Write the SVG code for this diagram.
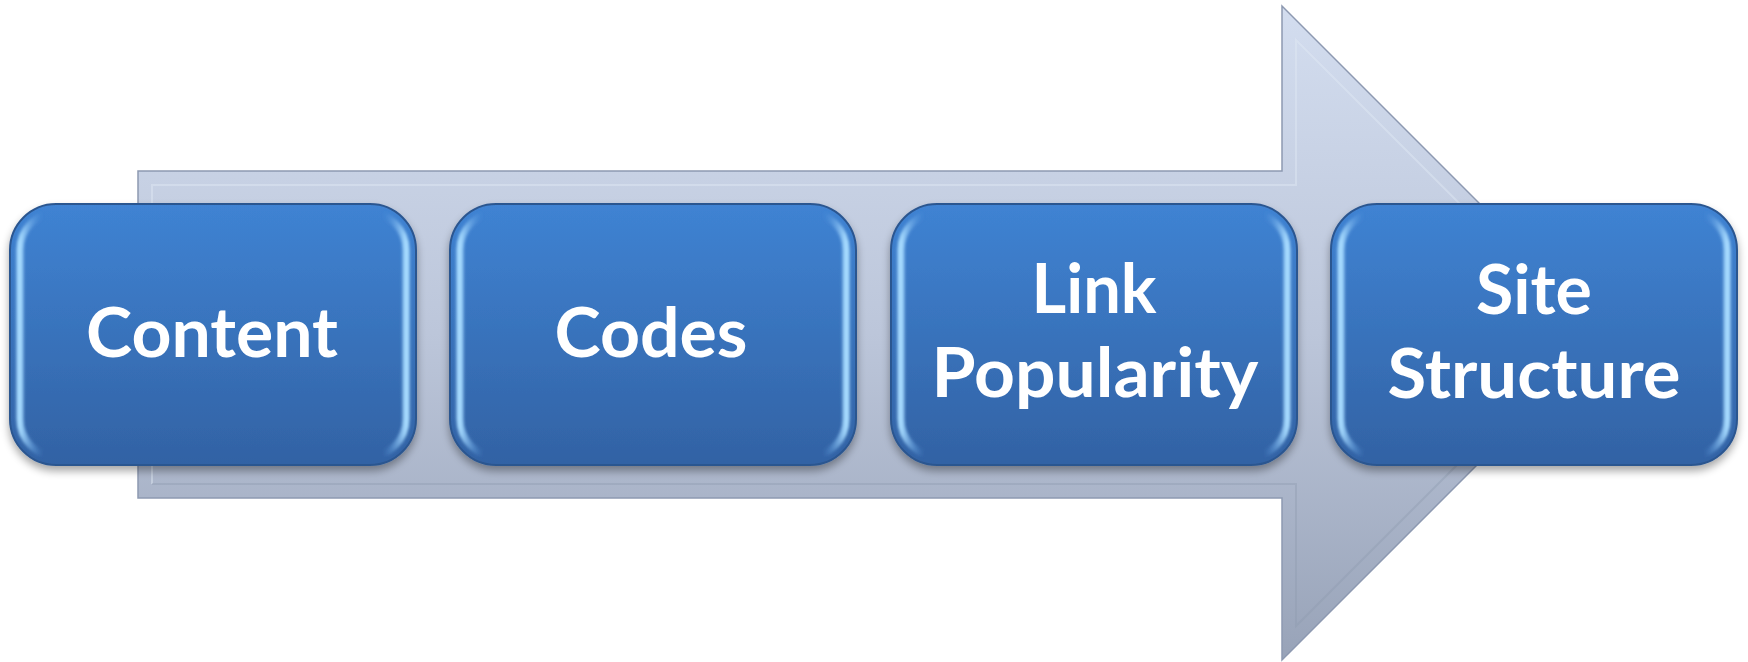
<svg xmlns="http://www.w3.org/2000/svg" width="1748" height="662" viewBox="0 0 1748 662">
<defs>
<linearGradient id="arrowFill" x1="0" y1="0" x2="0" y2="1">
<stop offset="0" stop-color="#d3ddef"/>
<stop offset="0.5" stop-color="#bcc6da"/>
<stop offset="1" stop-color="#98a3b8"/>
</linearGradient>
<linearGradient id="boxFill" x1="0" y1="0" x2="0" y2="1">
<stop offset="0" stop-color="#3f83d3"/>
<stop offset="1" stop-color="#3262a4"/>
</linearGradient>
<linearGradient id="edge" x1="0" y1="0" x2="1" y2="0">
<stop offset="0" stop-color="#a8dcff"/>
<stop offset="0.06" stop-color="#4f8fdb" stop-opacity="0"/>
<stop offset="0.94" stop-color="#4f8fdb" stop-opacity="0"/>
<stop offset="1" stop-color="#a8dcff"/>
</linearGradient>
<filter id="shadow" x="-10%" y="-10%" width="120%" height="130%">
<feGaussianBlur in="SourceAlpha" stdDeviation="4"/>
<feOffset dy="5"/>
<feComponentTransfer><feFuncA type="linear" slope="0.35"/></feComponentTransfer>
<feMerge><feMergeNode/><feMergeNode in="SourceGraphic"/></feMerge>
</filter>
<filter id="soft"><feGaussianBlur stdDeviation="1.5"/></filter>
</defs>
<style>
.box{fill:url(#boxFill);stroke:#2c5690;stroke-width:2}
.bevel{fill:none;stroke:url(#edge);stroke-width:7;filter:url(#soft)}
.lbl{font-family:Lato,"Open Sans","Liberation Sans",sans-serif;font-weight:bold;font-size:68px;fill:#ffffff;text-anchor:middle}
</style>
<g id="arrow">
<polygon points="138,171 1282,171 1282,6 1609,333 1282,660 1282,498 138,498" fill="url(#arrowFill)" stroke="#8d99b1" stroke-width="1.5"/>
<polyline points="152,484 152,185 1296,185 1296,40 1589,333" fill="none" stroke="#e0e8f5" stroke-width="2" opacity="0.45"/>
<polyline points="1589,333 1296,626 1296,484 152,484" fill="none" stroke="#8f9ab0" stroke-width="2" opacity="0.4"/>
</g>
<g id="node-content" filter="url(#shadow)">
<rect class="box" x="10" y="204" width="406" height="261" rx="46"/>
<rect class="bevel" x="20" y="212" width="386" height="245" rx="38"/>
<text class="lbl" x="212" y="357" textLength="252" lengthAdjust="spacingAndGlyphs">Content</text>
</g>
<g id="node-codes" filter="url(#shadow)">
<rect class="box" x="450" y="204" width="406" height="261" rx="46"/>
<rect class="bevel" x="460" y="212" width="386" height="245" rx="38"/>
<text class="lbl" x="651" y="357" textLength="193" lengthAdjust="spacingAndGlyphs">Codes</text>
</g>
<g id="node-link" filter="url(#shadow)">
<rect class="box" x="891" y="204" width="406" height="261" rx="46"/>
<rect class="bevel" x="901" y="212" width="386" height="245" rx="38"/>
<text class="lbl" x="1094" y="313" textLength="125" lengthAdjust="spacingAndGlyphs">Link</text>
<text class="lbl" x="1095" y="397" textLength="327" lengthAdjust="spacingAndGlyphs">Popularity</text>
</g>
<g id="node-site" filter="url(#shadow)">
<rect class="box" x="1331" y="204" width="406" height="261" rx="46"/>
<rect class="bevel" x="1341" y="212" width="386" height="245" rx="38"/>
<text class="lbl" x="1534" y="314" textLength="116" lengthAdjust="spacingAndGlyphs">Site</text>
<text class="lbl" x="1534" y="398" textLength="293" lengthAdjust="spacingAndGlyphs">Structure</text>
</g>
<g id="connectors"></g>
</svg>
